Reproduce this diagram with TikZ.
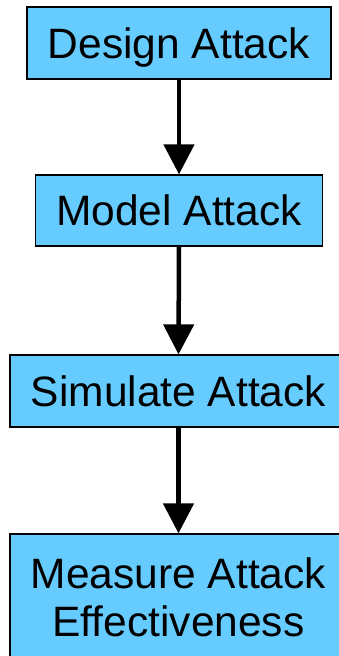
\documentclass[tikz,border=0pt]{standalone}
\usepackage{fontspec}
\setmainfont{Liberation Sans}
\usetikzlibrary{arrows.meta}
\definecolor{boxblue}{HTML}{66CCFF}
\tikzstyle{attackbox} = [draw=black, fill=boxblue, line width=1.2pt,
    rectangle, inner sep=0pt, align=center,
    font=\fontsize{42.5}{48}\selectfont]
\tikzstyle{onerow} = [attackbox, text depth=0pt, text height=30pt]
\tikzstyle{flow} = [line width=4.5pt, -{Triangle[width=30pt,length=30pt]}]

\begin{document}
\begin{tikzpicture}[x=1pt,y=-1pt]
    \useasboundingbox (0,0) rectangle (339,656);
    \node [onerow, minimum width=304pt, minimum height=72pt] (design) at (179,43) {Design Attack};
    \node [onerow, minimum width=287pt, minimum height=71pt] (model) at (179,210.5) {Model Attack};
    \node [onerow, minimum width=337pt, minimum height=72pt] (simulate) at (178.5,391) {Simulate Attack};
    \node [attackbox, minimum width=337pt, minimum height=126pt] (measure) at (178.5,597) {Measure Attack\\Effectiveness};
    \draw[flow] (design.south) -- (model.north);
    \draw[flow] (model.south) -- (simulate.north);
    \draw[flow] (simulate.south) -- (measure.north);
\end{tikzpicture}
\end{document}
